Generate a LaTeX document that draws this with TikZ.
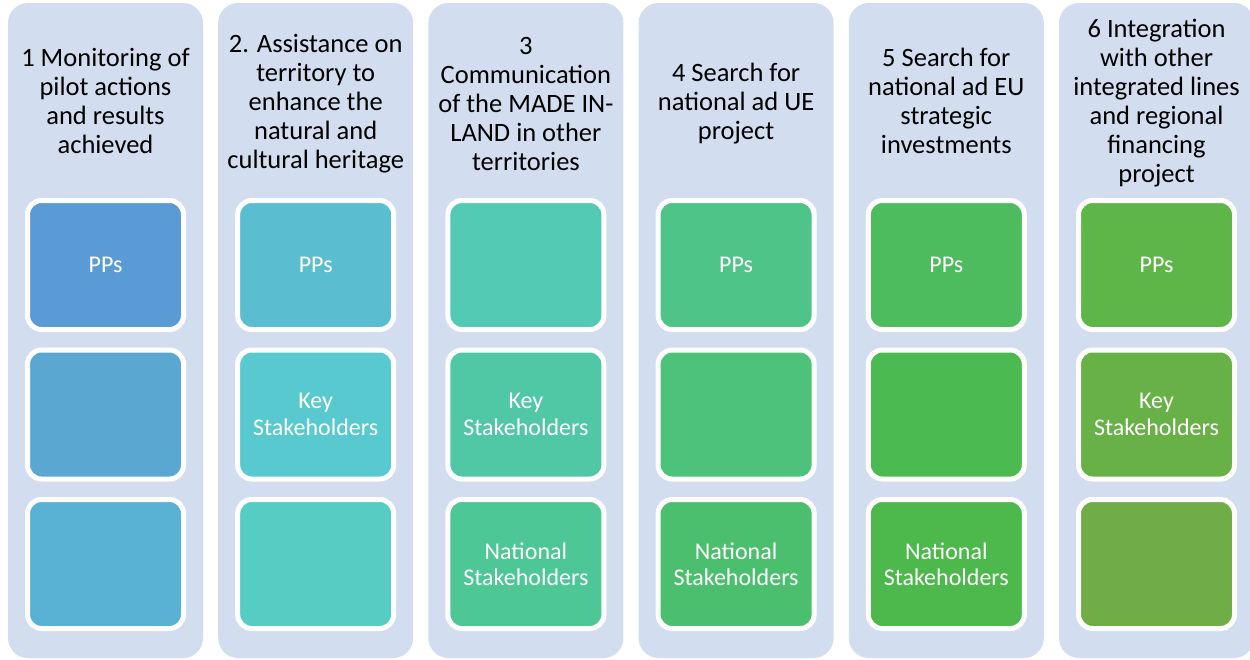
\documentclass[tikz,border=0pt]{standalone}
\usepackage{fontspec}
\setmainfont{Carlito}
\usetikzlibrary{positioning}
\definecolor{laneGray}{RGB}{210,222,239}
\definecolor{cardBlueA}{RGB}{91,155,213}
\definecolor{cardBlueB}{RGB}{90,168,210}
\definecolor{cardBlueC}{RGB}{89,177,212}
\definecolor{cardCyanA}{RGB}{90,189,208}
\definecolor{cardCyanB}{RGB}{88,201,207}
\definecolor{cardCyanC}{RGB}{85,205,194}
\definecolor{cardTealA}{RGB}{83,202,180}
\definecolor{cardTealB}{RGB}{80,200,165}
\definecolor{cardTealC}{RGB}{78,199,150}
\definecolor{cardMintA}{RGB}{78,196,136}
\definecolor{cardMintB}{RGB}{76,194,122}
\definecolor{cardMintC}{RGB}{76,191,110}
\definecolor{cardGreenA}{RGB}{76,188,94}
\definecolor{cardGreenB}{RGB}{75,186,80}
\definecolor{cardGreenC}{RGB}{77,184,75}
\definecolor{cardLeafA}{RGB}{94,181,72}
\definecolor{cardLeafB}{RGB}{103,177,71}
\definecolor{cardLeafC}{RGB}{112,173,71}
\tikzset{
  laneBack/.style={rounded corners=20pt,fill=laneGray,minimum width=195pt,minimum height=655pt,inner sep=0pt},
  laneTitle/.style={align=center,text=black,inner sep=0pt,font=\fontsize{26.5}{29}\selectfont},
  roleCard/.style={rounded corners=14pt,draw=white,line width=5pt,fill=#1,minimum width=156pt,minimum height=129pt,inner sep=0pt,align=center,text=white,font=\fontsize{24}{26.3}\selectfont}
}

\begin{document}
\begin{tikzpicture}[x=1pt,y=-1pt]
\path[fill=white,use as bounding box] (0,0) rectangle (1250,659);

\node[laneBack] (lane1) at (105.5,330.5) {};
\node[laneBack] (lane2) at (315.7,330.5) {};
\node[laneBack] (lane3) at (525.9,330.5) {};
\node[laneBack] (lane4) at (736.1,330.5) {};
\node[laneBack] (lane5) at (946.3,330.5) {};
\node[laneBack] (lane6) at (1156.5,330.5) {};

\node[laneTitle] (head1) at (105.5,100.5) {1 Monitoring of\\pilot actions\\and results\\achieved};
\node[laneTitle] (head2) at (315.7,103.5) {2. Assistance on\\territory to\\enhance the\\natural and\\cultural heritage};
\node[laneTitle] (head3) at (525.9,103.5) {3\\Communication\\of the MADE IN-\\LAND in other\\territories};
\node[laneTitle] (head4) at (736.1,103.5) {4 Search for\\national ad UE\\project};
\node[laneTitle] (head5) at (946.3,100.5) {5 Search for\\national ad EU\\strategic\\investments};
\node[laneTitle] (head6) at (1156.5,103.5) {6 Integration\\with other\\integrated lines\\and regional\\financing\\project};

\node[roleCard=cardBlueA] (card11) at (105.5,265) {PPs};
\node[roleCard=cardBlueB] (card12) at (105.5,414.5) {};
\node[roleCard=cardBlueC] (card13) at (105.5,564) {};

\node[roleCard=cardCyanA] (card21) at (315.7,265) {PPs};
\node[roleCard=cardCyanB] (card22) at (315.7,414.5) {Key\\Stakeholders};
\node[roleCard=cardCyanC] (card23) at (315.7,564) {};

\node[roleCard=cardTealA] (card31) at (525.9,265) {};
\node[roleCard=cardTealB] (card32) at (525.9,414.5) {Key\\Stakeholders};
\node[roleCard=cardTealC] (card33) at (525.9,564) {National\\Stakeholders};

\node[roleCard=cardMintA] (card41) at (736.1,265) {PPs};
\node[roleCard=cardMintB] (card42) at (736.1,414.5) {};
\node[roleCard=cardMintC] (card43) at (736.1,564) {National\\Stakeholders};

\node[roleCard=cardGreenA] (card51) at (946.3,265) {PPs};
\node[roleCard=cardGreenB] (card52) at (946.3,414.5) {};
\node[roleCard=cardGreenC] (card53) at (946.3,564) {National\\Stakeholders};

\node[roleCard=cardLeafA] (card61) at (1156.5,265) {PPs};
\node[roleCard=cardLeafB] (card62) at (1156.5,414.5) {Key\\Stakeholders};
\node[roleCard=cardLeafC] (card63) at (1156.5,564) {};
\end{tikzpicture}
\end{document}
